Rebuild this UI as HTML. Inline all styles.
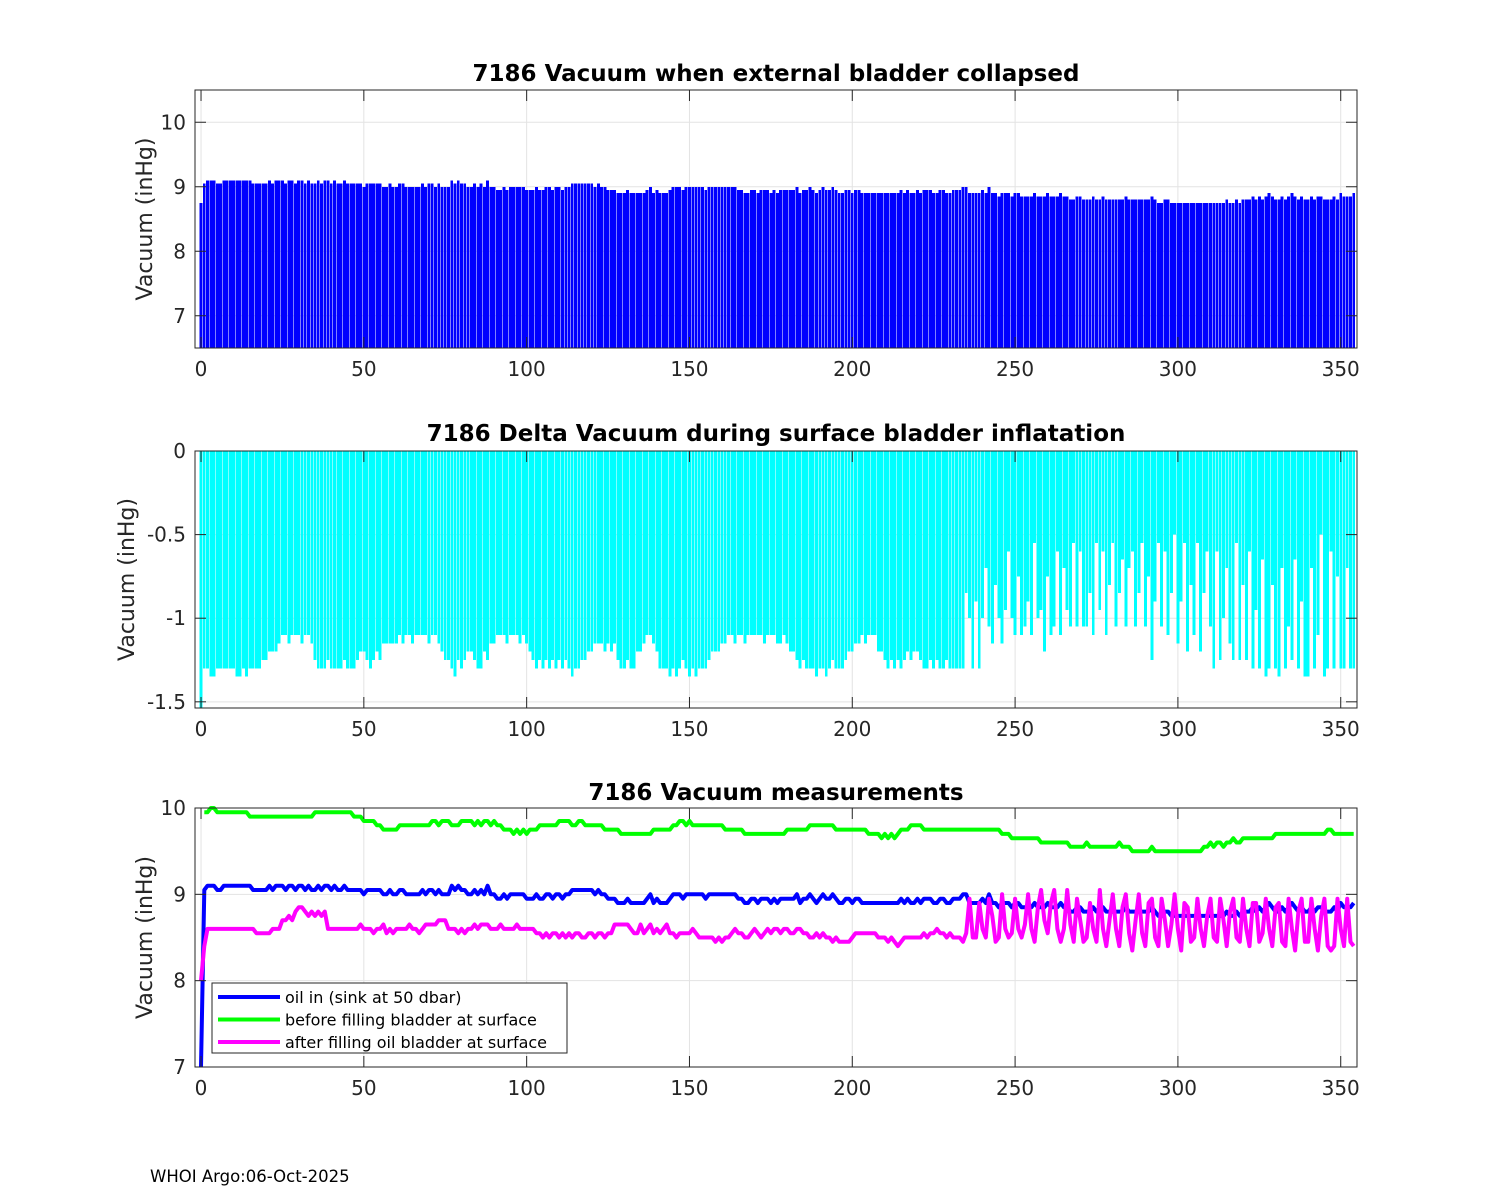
<!DOCTYPE html>
<html><head><meta charset="utf-8"><title>7186 Vacuum</title>
<style>
html,body{margin:0;padding:0;background:#fff;}
svg{display:block;font-family:"DejaVu Sans","Liberation Sans",sans-serif;}
</style></head>
<body>
<svg id="chart" width="1500" height="1200" viewBox="0 0 1500 1200" xmlns="http://www.w3.org/2000/svg">
<rect width="1500" height="1200" fill="#fff"/>
<text x="150" y="1182" font-size="16.5" fill="#000">WHOI Argo:06-Oct-2025</text>
</svg>
<script>
const xTicks=[0,50,100,150,200,250,300,350];
const p1YTicks=[7,8,9,10];
const p2YTicks=[0,-0.5,-1,-1.5];
const p3YTicks=[7,8,9,10];
const p2YTickLabels=["0","-0.5","-1","-1.5"];
const collapsed=[8.75,9.05,9.1,9.1,9.1,9.05,9.05,9.1,9.1,9.1,
9.1,9.1,9.1,9.1,9.1,9.1,9.05,9.05,9.05,9.05,
9.05,9.1,9.05,9.1,9.1,9.1,9.05,9.1,9.1,9.05,
9.1,9.1,9.05,9.1,9.05,9.05,9.1,9.05,9.1,9.1,
9.05,9.1,9.05,9.05,9.1,9.05,9.05,9.05,9.05,9.05,
9.0,9.05,9.05,9.05,9.05,9.05,9.0,9.0,9.05,9.0,
9.0,9.05,9.05,9.0,9.0,9.0,9.0,9.0,9.05,9.0,
9.05,9.05,9.0,9.05,9.0,9.0,9.0,9.1,9.05,9.1,
9.05,9.05,9.0,9.0,9.05,9.0,9.05,9.0,9.1,9.0,
9.0,8.95,8.95,9.0,8.95,9.0,9.0,9.0,9.0,9.0,
8.95,8.95,8.95,9.0,8.95,8.95,9.0,9.0,8.95,9.0,
9.0,8.95,9.0,9.0,9.05,9.05,9.05,9.05,9.05,9.05,
9.05,9.0,9.05,9.0,9.0,8.95,8.95,8.95,8.9,8.9,
8.9,8.95,8.9,8.9,8.9,8.9,8.9,8.95,9.0,8.9,
8.95,8.9,8.9,8.9,8.95,9.0,9.0,9.0,8.95,9.0,
9.0,9.0,9.0,9.0,9.0,8.95,9.0,9.0,9.0,9.0,
9.0,9.0,9.0,9.0,9.0,8.95,8.95,8.9,8.9,8.95,
8.95,8.9,8.95,8.95,8.95,8.9,8.95,8.9,8.95,8.95,
8.95,8.95,8.95,9.0,8.9,8.95,8.95,9.0,8.95,8.9,
8.95,9.0,8.95,8.95,9.0,8.95,8.9,8.9,8.95,8.95,
8.9,8.95,8.95,8.9,8.9,8.9,8.9,8.9,8.9,8.9,
8.9,8.9,8.9,8.9,8.9,8.95,8.9,8.95,8.9,8.9,
8.95,8.9,8.95,8.95,8.95,8.9,8.9,8.95,8.95,8.9,
8.9,8.95,8.95,8.95,9.0,9.0,8.9,8.9,8.9,8.9,
8.95,8.9,9.0,8.9,8.9,8.85,8.9,8.9,8.9,8.85,
8.9,8.9,8.85,8.85,8.85,8.85,8.9,8.85,8.85,8.85,
8.9,8.85,8.85,8.85,8.9,8.85,8.85,8.8,8.8,8.85,
8.85,8.8,8.8,8.8,8.85,8.8,8.8,8.85,8.8,8.8,
8.8,8.8,8.8,8.8,8.85,8.8,8.8,8.8,8.8,8.8,
8.8,8.8,8.85,8.8,8.75,8.75,8.8,8.8,8.75,8.75,
8.75,8.75,8.75,8.75,8.75,8.75,8.75,8.75,8.75,8.75,
8.75,8.75,8.75,8.75,8.75,8.8,8.75,8.75,8.8,8.75,
8.8,8.8,8.8,8.85,8.8,8.85,8.8,8.85,8.9,8.85,
8.8,8.8,8.85,8.8,8.85,8.9,8.85,8.8,8.85,8.8,
8.8,8.85,8.8,8.85,8.85,8.8,8.8,8.8,8.85,8.8,
8.9,8.85,8.85,8.85,8.9];
const delta=[-1.55,-1.3,-1.3,-1.35,-1.35,-1.3,-1.3,-1.3,-1.3,-1.3,
-1.3,-1.35,-1.35,-1.3,-1.35,-1.3,-1.3,-1.3,-1.3,-1.25,
-1.25,-1.2,-1.2,-1.2,-1.15,-1.1,-1.1,-1.15,-1.1,-1.1,
-1.1,-1.15,-1.1,-1.1,-1.15,-1.25,-1.3,-1.3,-1.3,-1.25,
-1.3,-1.3,-1.3,-1.3,-1.25,-1.3,-1.3,-1.3,-1.25,-1.2,
-1.2,-1.25,-1.3,-1.25,-1.2,-1.25,-1.15,-1.15,-1.15,-1.15,
-1.15,-1.1,-1.15,-1.1,-1.1,-1.15,-1.1,-1.1,-1.1,-1.1,
-1.15,-1.1,-1.1,-1.15,-1.2,-1.25,-1.25,-1.3,-1.35,-1.25,
-1.3,-1.25,-1.2,-1.2,-1.25,-1.3,-1.3,-1.2,-1.25,-1.15,
-1.15,-1.1,-1.1,-1.1,-1.15,-1.1,-1.1,-1.1,-1.15,-1.1,
-1.15,-1.2,-1.25,-1.3,-1.25,-1.3,-1.25,-1.3,-1.25,-1.3,
-1.25,-1.3,-1.25,-1.3,-1.35,-1.3,-1.3,-1.25,-1.25,-1.2,
-1.2,-1.15,-1.15,-1.15,-1.2,-1.15,-1.2,-1.15,-1.25,-1.3,
-1.3,-1.25,-1.3,-1.3,-1.2,-1.2,-1.15,-1.1,-1.1,-1.15,
-1.2,-1.3,-1.3,-1.3,-1.35,-1.3,-1.35,-1.3,-1.25,-1.3,
-1.35,-1.3,-1.35,-1.3,-1.3,-1.3,-1.25,-1.2,-1.2,-1.2,
-1.15,-1.15,-1.1,-1.1,-1.15,-1.1,-1.1,-1.15,-1.1,-1.1,
-1.1,-1.1,-1.1,-1.15,-1.1,-1.1,-1.1,-1.15,-1.15,-1.1,
-1.15,-1.2,-1.2,-1.25,-1.3,-1.25,-1.3,-1.3,-1.3,-1.35,
-1.3,-1.3,-1.35,-1.3,-1.25,-1.3,-1.3,-1.3,-1.25,-1.2,
-1.2,-1.15,-1.15,-1.1,-1.15,-1.1,-1.1,-1.1,-1.2,-1.2,
-1.25,-1.3,-1.25,-1.3,-1.25,-1.3,-1.25,-1.2,-1.25,-1.2,
-1.2,-1.25,-1.3,-1.3,-1.25,-1.3,-1.25,-1.3,-1.3,-1.25,
-1.3,-1.3,-1.3,-1.3,-1.3,-0.85,-1.0,-1.3,-0.9,-1.3,
-1.0,-0.7,-1.05,-1.15,-0.8,-1.0,-1.15,-0.95,-0.6,-1.0,
-1.1,-0.75,-1.1,-1.05,-0.9,-1.1,-0.55,-1.0,-0.95,-1.2,
-0.75,-1.1,-1.05,-0.6,-1.1,-0.7,-0.95,-1.05,-0.55,-1.05,
-0.6,-1.05,-1.05,-0.85,-1.1,-0.55,-0.95,-0.6,-1.1,-0.8,
-0.55,-1.05,-0.85,-0.65,-1.05,-0.7,-0.6,-1.05,-0.85,-0.55,
-1.05,-0.75,-1.25,-0.9,-0.55,-1.05,-0.6,-1.1,-0.85,-0.5,
-1.15,-0.9,-0.55,-1.2,-0.8,-1.1,-0.55,-1.2,-0.85,-0.6,
-1.05,-1.3,-0.6,-1.25,-1.0,-0.7,-1.15,-1.25,-0.55,-1.25,
-0.8,-1.25,-0.6,-1.3,-0.95,-1.3,-0.65,-1.35,-1.3,-0.8,
-1.3,-1.35,-0.7,-1.3,-1.05,-1.25,-0.65,-1.3,-0.9,-1.35,
-1.35,-0.7,-1.3,-1.1,-0.5,-1.35,-1.3,-0.6,-1.3,-0.75,
-1.3,-1.3,-0.7,-1.3,-1.3];
const oilIn=[7.0,9.05,9.1,9.1,9.1,9.05,9.05,9.1,9.1,9.1].concat(collapsed.slice(10));
const before=[null,9.95,9.95,10.0,10.0,9.95,9.95,9.95,9.95,9.95,
9.95,9.95,9.95,9.95,9.95,9.9,9.9,9.9,9.9,9.9,
9.9,9.9,9.9,9.9,9.9,9.9,9.9,9.9,9.9,9.9,
9.9,9.9,9.9,9.9,9.9,9.95,9.95,9.95,9.95,9.95,
9.95,9.95,9.95,9.95,9.95,9.95,9.95,9.9,9.9,9.9,
9.85,9.85,9.85,9.85,9.8,9.8,9.75,9.75,9.75,9.75,
9.75,9.8,9.8,9.8,9.8,9.8,9.8,9.8,9.8,9.8,
9.8,9.85,9.85,9.8,9.85,9.85,9.85,9.8,9.8,9.8,
9.85,9.85,9.85,9.85,9.8,9.85,9.8,9.85,9.85,9.8,
9.85,9.8,9.8,9.75,9.75,9.75,9.7,9.75,9.7,9.75,
9.7,9.75,9.75,9.75,9.8,9.8,9.8,9.8,9.8,9.8,
9.85,9.85,9.85,9.85,9.8,9.8,9.85,9.85,9.8,9.8,
9.8,9.8,9.8,9.8,9.75,9.75,9.75,9.75,9.75,9.7,
9.7,9.7,9.7,9.7,9.7,9.7,9.7,9.7,9.7,9.75,
9.75,9.75,9.75,9.75,9.75,9.8,9.8,9.85,9.85,9.8,
9.85,9.8,9.8,9.8,9.8,9.8,9.8,9.8,9.8,9.8,
9.8,9.75,9.75,9.75,9.75,9.75,9.75,9.7,9.7,9.7,
9.7,9.7,9.7,9.7,9.7,9.7,9.7,9.7,9.7,9.7,
9.75,9.75,9.75,9.75,9.75,9.75,9.75,9.8,9.8,9.8,
9.8,9.8,9.8,9.8,9.8,9.75,9.75,9.75,9.75,9.75,
9.75,9.75,9.75,9.75,9.75,9.7,9.7,9.7,9.7,9.65,
9.7,9.65,9.7,9.65,9.7,9.75,9.75,9.75,9.8,9.8,
9.8,9.8,9.75,9.75,9.75,9.75,9.75,9.75,9.75,9.75,
9.75,9.75,9.75,9.75,9.75,9.75,9.75,9.75,9.75,9.75,
9.75,9.75,9.75,9.75,9.75,9.75,9.7,9.7,9.7,9.65,
9.65,9.65,9.65,9.65,9.65,9.65,9.65,9.65,9.6,9.6,
9.6,9.6,9.6,9.6,9.6,9.6,9.6,9.55,9.55,9.55,
9.55,9.55,9.6,9.55,9.55,9.55,9.55,9.55,9.55,9.55,
9.55,9.55,9.6,9.55,9.55,9.55,9.5,9.5,9.5,9.5,
9.5,9.5,9.55,9.5,9.5,9.5,9.5,9.5,9.5,9.5,
9.5,9.5,9.5,9.5,9.5,9.5,9.5,9.5,9.55,9.55,
9.6,9.55,9.6,9.6,9.55,9.6,9.6,9.65,9.6,9.6,
9.65,9.65,9.65,9.65,9.65,9.65,9.65,9.65,9.65,9.65,
9.7,9.7,9.7,9.7,9.7,9.7,9.7,9.7,9.7,9.7,
9.7,9.7,9.7,9.7,9.7,9.7,9.75,9.75,9.7,9.7,
9.7,9.7,9.7,9.7,9.7];
const after=[8.0,8.4,8.6,8.6,8.6,8.6,8.6,8.6,8.6,8.6,
8.6,8.6,8.6,8.6,8.6,8.6,8.6,8.55,8.55,8.55,
8.55,8.55,8.6,8.6,8.6,8.7,8.7,8.75,8.7,8.8,
8.85,8.85,8.8,8.75,8.8,8.75,8.8,8.75,8.8,8.6,
8.6,8.6,8.6,8.6,8.6,8.6,8.6,8.6,8.6,8.65,
8.6,8.6,8.6,8.55,8.6,8.6,8.65,8.55,8.6,8.55,
8.6,8.6,8.6,8.6,8.65,8.6,8.6,8.55,8.6,8.65,
8.65,8.65,8.65,8.7,8.7,8.7,8.6,8.6,8.6,8.55,
8.6,8.55,8.6,8.6,8.65,8.6,8.65,8.65,8.65,8.6,
8.6,8.6,8.65,8.6,8.6,8.6,8.6,8.65,8.6,8.6,
8.6,8.6,8.6,8.55,8.55,8.5,8.55,8.5,8.55,8.55,
8.5,8.55,8.5,8.55,8.5,8.55,8.55,8.5,8.5,8.55,
8.55,8.5,8.55,8.55,8.5,8.55,8.55,8.65,8.65,8.65,
8.65,8.65,8.6,8.55,8.55,8.65,8.55,8.6,8.65,8.55,
8.6,8.55,8.6,8.65,8.55,8.55,8.5,8.55,8.55,8.55,
8.55,8.6,8.55,8.5,8.5,8.5,8.5,8.5,8.45,8.5,
8.45,8.5,8.5,8.55,8.6,8.55,8.55,8.5,8.5,8.55,
8.6,8.55,8.5,8.55,8.6,8.55,8.6,8.6,8.55,8.6,
8.6,8.55,8.55,8.6,8.6,8.55,8.55,8.5,8.5,8.55,
8.5,8.55,8.5,8.5,8.45,8.5,8.45,8.45,8.45,8.45,
8.5,8.55,8.55,8.55,8.55,8.55,8.55,8.55,8.5,8.5,
8.5,8.45,8.5,8.45,8.4,8.45,8.5,8.5,8.5,8.5,
8.5,8.5,8.55,8.5,8.55,8.55,8.6,8.55,8.55,8.5,
8.55,8.5,8.5,8.5,8.45,8.55,8.95,8.5,8.5,8.9,
8.6,8.5,8.95,8.75,8.45,8.5,9.0,8.6,8.5,8.55,
8.95,8.6,8.5,8.65,9.0,8.6,8.45,8.85,9.05,8.7,
8.55,8.9,9.05,8.6,8.45,8.6,9.05,8.65,8.45,8.95,
8.7,8.45,8.5,8.9,8.6,8.45,9.05,8.6,8.4,8.7,
9.0,8.6,8.4,8.85,9.0,8.55,8.35,8.7,9.0,8.55,
8.4,8.9,8.95,8.5,8.4,8.95,8.7,8.4,8.65,9.0,
8.6,8.35,8.9,8.85,8.45,8.5,8.95,8.6,8.4,8.75,
8.95,8.5,8.45,8.95,8.7,8.4,8.8,8.95,8.5,8.45,
8.95,8.6,8.4,8.9,8.9,8.45,8.55,8.95,8.6,8.4,
8.85,8.9,8.45,8.4,8.95,8.6,8.35,8.8,8.95,8.45,
8.45,8.95,8.6,8.35,8.75,8.95,8.4,8.35,8.4,8.95,
8.6,8.4,8.95,8.45,8.4];
const legendLabels=["oil in (sink at 50 dbar)","before filling bladder at surface","after filling oil bladder at surface"];

const NS="http://www.w3.org/2000/svg";
const svg=document.getElementById('chart');
function mk(tag,attrs,parent){const e=document.createElementNS(NS,tag);for(const k in attrs)e.setAttribute(k,attrs[k]);(parent||svg).appendChild(e);return e;}
const L=195,R=1357,X0=-1.85,X1=355;
function sx(v){return L+(v-X0)/(X1-X0)*(R-L);}
function makeY(top,bot,ymin,ymax){return v=>bot-(v-ymin)/(ymax-ymin)*(bot-top);}

function axes(name,top,bot,ymin,ymax,yt,title,titleY,labelX){
  const sy=makeY(top,bot,ymin,ymax);
  const g=mk('g',{});
  
  
  mk('rect',{x:L,y:top,width:R-L,height:bot-top,fill:'#fff'},g);
  xTicks.forEach(t=>{const x=sx(t);const l=mk('line',{x1:x,x2:x,y1:top,y2:bot,stroke:'#e3e3e3','stroke-width':1},g);});
  yt.forEach(t=>{const y=sy(t);const l=mk('line',{x1:L,x2:R,y1:y,y2:y,stroke:'#e3e3e3','stroke-width':1},g);});
  const t=mk('text',{x:(L+R)/2,y:titleY,'text-anchor':'middle','font-size':23,'font-weight':'bold',fill:'#000'});
  t.textContent=title;
  
  
  const yl=mk('text',{x:0,y:0,'text-anchor':'middle','font-size':22,fill:'#262626',transform:`translate(${labelX},${(top+bot)/2}) rotate(-90)`});
  yl.textContent='Vacuum (inHg)';
  
  
  return {g,sy};
}
function frame(g,top,bot,sy,yt,ytl){
  mk('rect',{x:L,y:top,width:R-L,height:bot-top,fill:'none',stroke:'#262626','stroke-width':1},g);
  xTicks.forEach(t=>{const x=sx(t);
    mk('line',{x1:x,x2:x,y1:bot,y2:bot-11,stroke:'#262626'},g);
    mk('line',{x1:x,x2:x,y1:top,y2:top+11,stroke:'#262626'},g);
    const tx=mk('text',{x:x,y:bot+28,'text-anchor':'middle','font-size':20,fill:'#262626'},g);
    tx.textContent=String(t);
    
    });
  yt.forEach((t,i)=>{const y=sy(t);
    mk('line',{x1:L,x2:L+11,y1:y,y2:y,stroke:'#262626'},g);
    mk('line',{x1:R,x2:R-11,y1:y,y2:y,stroke:'#262626'},g);
    const tx=mk('text',{x:L-9,y:y+7,'text-anchor':'end','font-size':20,fill:'#262626'},g);
    tx.textContent=ytl?ytl[i]:String(t);
    
    });
}

// Panel 1
(function(){
  const top=90,bot=348,ymin=6.5,ymax=10.5;
  const {g,sy}=axes('collapsed',top,bot,ymin,ymax,p1YTicks,'7186 Vacuum when external bladder collapsed',81,152);
  const w=(sx(1)-sx(0))*0.9;
  collapsed.forEach((v,i)=>{if(v==null)return;const y=sy(Math.min(v,ymax));
    const b=mk('rect',{x:sx(i)-w/2,y:y,width:w,height:bot-y,fill:'#0000ff','shape-rendering':'crispEdges'},g);
    
    });
  frame(g,top,bot,sy,p1YTicks,null);
})();
// Panel 2
(function(){
  const top=451,bot=708,ymin=-1.537,ymax=0;
  const {g,sy}=axes('delta',top,bot,ymin,ymax,p2YTicks,'7186 Delta Vacuum during surface bladder inflatation',441,134);
  const w=(sx(1)-sx(0))*0.9;
  delta.forEach((v,i)=>{if(v==null)return;const y=sy(Math.max(v,ymin));
    const b=mk('rect',{x:sx(i)-w/2,y:top,width:w,height:y-top,fill:'#00ffff','shape-rendering':'crispEdges'},g);
    
    });
  frame(g,top,bot,sy,p2YTicks,p2YTickLabels);
})();
// Panel 3
(function(){
  const top=808,bot=1067,ymin=7,ymax=10;
  const {g,sy}=axes('measurements',top,bot,ymin,ymax,p3YTicks,'7186 Vacuum measurements',800,152);
  const cp=mk('clipPath',{id:'c3'},g);mk('rect',{x:L,y:top-3,width:R-L,height:bot-top+3},cp);
  function line(arr,color,name){
    let d='';let pen=false;
    arr.forEach((v,i)=>{if(v==null){pen=false;return;}d+=(pen?'L':'M')+sx(i).toFixed(1)+','+sy(v).toFixed(1);pen=true;});
    const p=mk('path',{d:d,fill:'none',stroke:color,'stroke-width':4,'stroke-linejoin':'round','clip-path':'url(#c3)'},g);
    
    
  }
  line(oilIn,'#0000ff','oil-in-line');
  line(before,'#00ff00','before-filling-line');
  line(after,'#ff00ff','after-filling-line');
  frame(g,top,bot,sy,p3YTicks,null);
  const lg=mk('g',{},g);
  
  
  mk('rect',{x:212,y:983,width:355,height:70,fill:'#fff',stroke:'#262626','stroke-width':1},lg);
  const cols=['#0000ff','#00ff00','#ff00ff'];
  legendLabels.forEach((lab,i)=>{const y=997+i*22.5;
    const e=mk('g',{},lg);
    
    
    mk('line',{x1:218,x2:280,y1:y,y2:y,stroke:cols[i],'stroke-width':4},e);
    const t=mk('text',{x:285,y:y+6,'font-size':16,fill:'#000'},e);
    t.textContent=lab;});
})();
</script>
</body></html>
